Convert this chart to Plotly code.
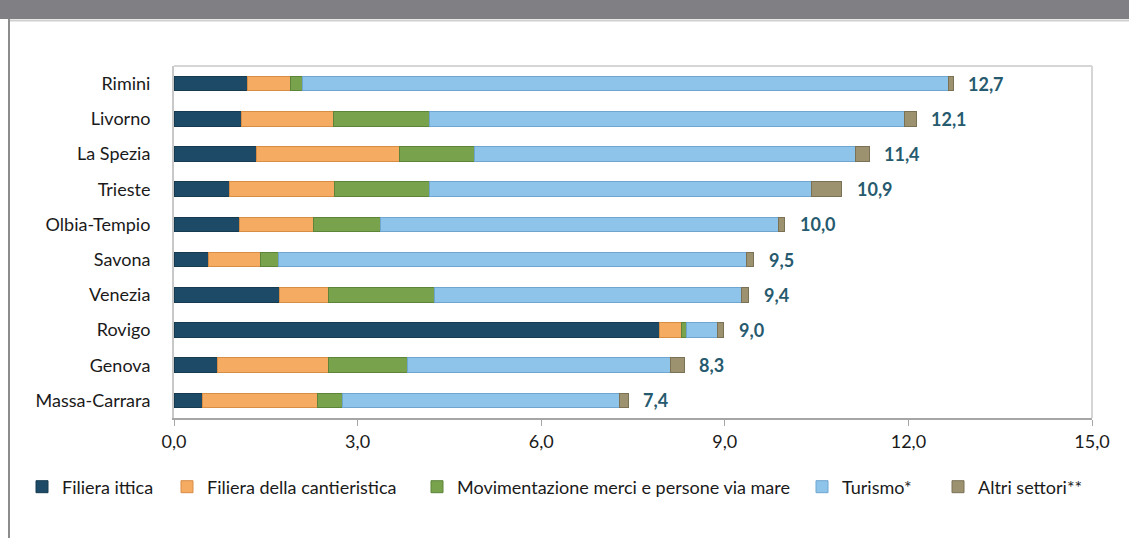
import plotly.graph_objects as go

categories = ["Rimini", "Livorno", "La Spezia", "Trieste", "Olbia-Tempio",
              "Savona", "Venezia", "Rovigo", "Genova", "Massa-Carrara"]

filiera_ittica = [1.20, 1.10, 1.34, 0.91, 1.07, 0.57, 1.72, 7.94, 0.71, 0.46]
cantieristica = [0.70, 1.50, 2.35, 1.72, 1.21, 0.85, 0.80, 0.35, 1.81, 1.89]
movimentazione = [0.20, 1.58, 1.22, 1.54, 1.09, 0.28, 1.74, 0.08, 1.30, 0.40]
turismo = [10.55, 7.75, 6.23, 6.24, 6.51, 7.65, 5.01, 0.51, 4.30, 4.53]
altri = [0.08, 0.20, 0.22, 0.50, 0.10, 0.12, 0.12, 0.10, 0.22, 0.14]

totals = [12.7, 12.1, 11.4, 10.9, 10.0, 9.5, 9.4, 9.0, 8.3, 7.4]

series_names = ["Filiera ittica", "Filiera della cantieristica",
                "Movimentazione merci e persone via mare", "Turismo*", "Altri settori**"]
series_values = [filiera_ittica, cantieristica, movimentazione, turismo, altri]
colors = ["#1d4b67", "#f5ab62", "#78a24c", "#8ec3ea", "#9d9270"]
line_colors = ["#163a50", "#d88d45", "#5d8439", "#6fa6d0", "#7b7256"]

x_ticks = [0, 3, 6, 9, 12, 15]

FONT = "Lato"
W, H = 1129, 538
ML, MR, MT, MB = 174, 37, 66, 120
PW = W - ML - MR
PH = H - MT - MB

# legend entry positions (pixel of the legend text start)
legend_text_px = [62, 207, 457, 842, 978]
legend_ids = ["legend", "legend2", "legend3", "legend4", "legend5"]

fig = go.Figure()
for name, vals, c, lc, lid in zip(series_names, series_values, colors, line_colors, legend_ids):
    fig.add_trace(go.Bar(
        y=categories, x=vals, name=name, orientation="h",
        marker=dict(color=c, line=dict(color=lc, width=1)),
        hoverinfo="x+name", legend=lid,
    ))

bar_ends = [sum(v) for v in zip(*series_values)]
for cat, end, tot in zip(categories, bar_ends, totals):
    fig.add_annotation(
        x=end, y=cat, xref="x", yref="y",
        text="<b>" + f"{tot:.1f}".replace(".", ",") + "</b>",
        showarrow=False, xanchor="left", xshift=13,
        font=dict(family=FONT, size=18, color="#265a6e"),
    )

def px_x(p):
    return (p - ML) / PW

def px_y(p):
    return (H - MB - p) / PH

shapes = [
    # header band
    dict(type="rect", xref="paper", yref="paper", x0=px_x(-5), x1=px_x(W + 5),
         y0=px_y(19), y1=px_y(-5), fillcolor="#808084", line=dict(width=0), layer="above"),
    dict(type="line", xref="paper", yref="paper", x0=px_x(9), x1=px_x(W + 5),
         y0=px_y(20.5), y1=px_y(20.5), line=dict(color="#d0d0d0", width=2)),
    # outer left border
    dict(type="line", xref="paper", yref="paper", x0=px_x(9), x1=px_x(9),
         y0=px_y(19), y1=px_y(H + 5), line=dict(color="#8c8c8c", width=2)),
    # plot area top and right border
    dict(type="line", xref="paper", yref="paper", x0=0, x1=1, y0=1, y1=1,
         line=dict(color="#d6d6d6", width=2)),
    dict(type="line", xref="paper", yref="paper", x0=1, x1=1, y0=0, y1=1,
         line=dict(color="#d6d6d6", width=2)),
]

layout_legends = {}
for lid, tx in zip(legend_ids, legend_text_px):
    layout_legends[lid] = dict(
        orientation="h", x=px_x(tx - 40), xanchor="left",
        y=px_y(487), yanchor="middle", bgcolor="rgba(0,0,0,0)",
        font=dict(family=FONT, size=18, color="#1a1a1a"), itemwidth=30,
    )

fig.update_layout(
    width=W, height=H,
    margin=dict(l=ML, r=MR, t=MT, b=MB, autoexpand=False),
    barmode="stack", bargap=0.59,
    plot_bgcolor="white", paper_bgcolor="white",
    separators=",.",
    font=dict(family=FONT, size=18, color="#1a1a1a"),
    showlegend=True,
    shapes=shapes,
    xaxis=dict(range=[0, 15], tickvals=x_ticks, tickformat=".1f",
               showgrid=False, zeroline=False, showline=True, linecolor="#a6a6a6",
               linewidth=2, ticks="outside", ticklen=6, tickcolor="#a6a6a6", tickwidth=1,
               tickfont=dict(family=FONT, size=18, color="#1a1a1a")),
    yaxis=dict(categoryorder="array", categoryarray=categories, autorange="reversed",
               showgrid=False, zeroline=False, showline=True, linecolor="#c8c8c8",
               linewidth=2, ticks="", ticklabelstandoff=18,
               tickfont=dict(family=FONT, size=18, color="#1a1a1a")),
    **layout_legends,
)

fig.write_html("out.html", config={"displayModeBar": False},
               post_script="document.body.style.margin='0';")
